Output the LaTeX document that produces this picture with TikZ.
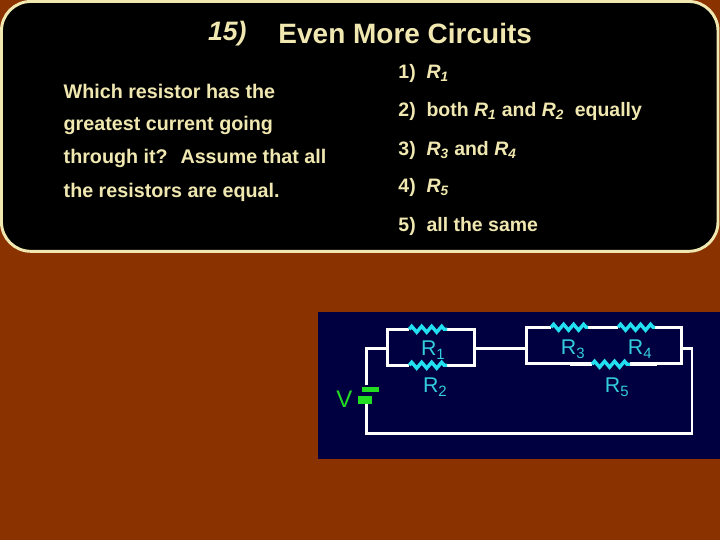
\documentclass[tikz,border=0pt]{standalone}
\usepackage{fontspec}
\setmainfont{Liberation Sans}
\usetikzlibrary{decorations.pathmorphing}
\definecolor{bg}{HTML}{8B3300}
\definecolor{panel}{HTML}{000040}
\definecolor{cream}{HTML}{F0E8B0}
\definecolor{cy}{HTML}{33CCDD}
\definecolor{rs}{HTML}{22E0F0}
\definecolor{gr}{HTML}{22DD22}
\tikzset{txt/.style={font=\bfseries\fontsize{14.8}{17}\selectfont,text=cream,anchor=west,inner sep=0},
  ans/.style={font=\bfseries\fontsize{14.6}{17}\selectfont,text=cream,anchor=west,inner sep=0},
  wire/.style={white,line width=2.2pt},
  res/.style={rs,line width=2.6pt,decorate,decoration={zigzag,segment length=7.5pt,amplitude=2.2pt}},
  lab/.style={cy,font=\fontsize{16}{18}\selectfont,inner sep=0}}
\begin{document}
\begin{tikzpicture}[x=0.75pt,y=-0.75pt]
\fill[bg] (0,0) rectangle (720,540);
\fill[black,rounded corners=22pt,draw=cream,line width=2.2pt] (1,1) rectangle (718,251);
\node[font=\bfseries\itshape\fontsize{20}{22}\selectfont,text=cream] (n15) at (227,33) {15)};
\node[font=\bfseries\fontsize{21}{23}\selectfont,text=cream] (ttl) at (405,33) {Even More Circuits};
\node[txt] (q1) at (63,91) {Which resistor has the};
\node[txt] (q2) at (63,125) {greatest current going};
\node[txt] (q3) at (63,158) {through it?~ Assume that all};
\node[txt] (q4) at (63,192) {the resistors are equal.};
\node[ans] (a1) at (398,73) {1)~ \textit{R\textsubscript{1}}};
\node[ans] (a2) at (398,111) {2)~ both \textit{R\textsubscript{1}} and \textit{R\textsubscript{2}}~ equally};
\node[ans] (a3) at (398,150) {3)~ \textit{R\textsubscript{3}} and \textit{R\textsubscript{4}}};
\node[ans] (a4) at (398,187) {4)~ \textit{R\textsubscript{5}}};
\node[ans] (a5) at (398,226) {5)~ all the same};
\fill[panel] (318,312) rectangle (720,459);
% wires
\coordinate (bt) at (366,385);
\coordinate (bb) at (366,404);
\draw[wire] (bt) -- (366,348) -- (387,348);
\draw[wire] (bb) -- (366,433) -- (692,433) -- (692,348) -- (681,348);
\draw[wire] (387,329) rectangle (474,365);
\draw[wire] (474,348) -- (526,348);
\draw[wire] (526,327) rectangle (681,363);
\draw[wire] (570,364) -- (657,364);
% resistors
\fill[panel] (409,325) rectangle (447,333);
\draw[res] (409,329) -- (447,329);
\fill[panel] (409,361) rectangle (447,369);
\draw[res] (409,365) -- (447,365);
\fill[panel] (551,323) rectangle (588,331);
\draw[res] (551,327) -- (588,327);
\fill[panel] (618,323) rectangle (655,331);
\draw[res] (618,327) -- (655,327);
\fill[panel] (592,360) rectangle (630,368);
\draw[res] (592,364) -- (630,364);
% battery
\fill[gr] (362,387) rectangle (379,392);
\fill[gr] (358,396) rectangle (372,404);
\node[gr,font=\fontsize{18}{20}\selectfont] (v) at (344,399) {V};
\node[lab] (r1) at (433,350) {R\textsubscript{1}};
\node[lab] (r2) at (435,387) {R\textsubscript{2}};
\node[lab] (r3) at (573,349) {R\textsubscript{3}};
\node[lab] (r4) at (640,349) {R\textsubscript{4}};
\node[lab] (r5) at (617,387) {R\textsubscript{5}};
\end{tikzpicture}
\end{document}
